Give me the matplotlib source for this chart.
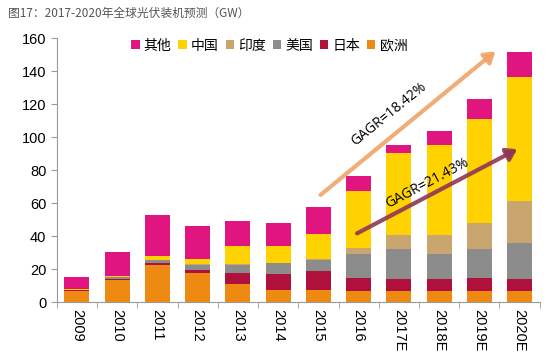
import numpy as np
import matplotlib
matplotlib.use("Agg")
import matplotlib.pyplot as plt

plt.rcParams['font.family'] = ['Liberation Sans', 'Noto Sans CJK SC', 'DejaVu Sans']

# 数据（GW）
years = ['2009', '2010', '2011', '2012', '2013', '2014', '2015', '2016',
         '2017E', '2018E', '2019E', '2020E']
europe = [7.0, 13.3, 22.4, 17.6, 11.1, 7.5, 7.5, 6.8, 6.8, 6.8, 6.8, 6.8]
japan = [0.5, 1.0, 1.2, 2.0, 6.7, 9.9, 11.4, 8.1, 7.1, 7.5, 7.7, 7.5]
usa = [0.2, 0.9, 2.0, 3.2, 4.6, 6.2, 6.7, 14.1, 18.3, 15.1, 17.7, 21.8]
india = [0.0, 0.0, 0.3, 0.4, 0.8, 0.5, 0.6, 3.7, 8.3, 11.1, 15.8, 25.2]
china = [0.2, 0.5, 2.3, 2.8, 10.9, 10.2, 15.2, 34.6, 49.8, 54.8, 63.3, 75.2]
other = [7.2, 14.6, 24.7, 20.4, 15.1, 13.9, 16.1, 9.3, 4.7, 8.3, 12.1, 15.1]

series = [('欧洲', europe, '#EE8A12'),
          ('日本', japan, '#B0103C'),
          ('美国', usa, '#8C8C8C'),
          ('印度', india, '#C9A56F'),
          ('中国', china, '#FFD200'),
          ('其他', other, '#E0157F')]

fig = plt.figure(figsize=(5.57, 3.63), dpi=100)
ax = fig.add_axes([0.102, 0.167, 0.867, 0.728])

x = np.arange(len(years))
bottom = np.zeros(len(years))
handles = {}
for name, vals, color in series:
    vals = np.array(vals)
    h = ax.bar(x, vals, 0.62, bottom=bottom, color=color, label=name, zorder=2)
    handles[name] = h
    bottom += vals

# 图例
order = ['其他', '中国', '印度', '美国', '日本', '欧洲']
leg = ax.legend([handles[n] for n in order], order, loc='upper center',
                bbox_to_anchor=(0.44, 1.045), ncol=6, frameon=False,
                handlelength=0.6, handleheight=0.6, handletextpad=0.3,
                columnspacing=0.5,
                prop={'family': 'Noto Sans CJK SC', 'size': 10})

# 坐标轴
ax.set_xlim(-0.5, len(years) - 0.5)
ax.set_ylim(0, 160)
ax.set_yticks(np.arange(0, 161, 20))
ax.set_xticks(x)
ax.set_xticklabels(years, rotation=270, fontsize=10.5)
ax.set_xticks(np.arange(-0.5, len(years), 1), minor=True)
ax.tick_params(axis='x', which='major', length=0, pad=5)
ax.tick_params(axis='x', which='minor', length=4, color='#999999')
ax.tick_params(axis='y', length=4, color='#999999', labelsize=10.5)
for s in ['top', 'right']:
    ax.spines[s].set_visible(False)
ax.spines['left'].set_color('#999999')
ax.spines['bottom'].set_color('#999999')

# 增长箭头
ax.annotate('', xy=(10.45, 153), xytext=(6.0, 64),
            arrowprops=dict(arrowstyle='-|>,head_length=0.6,head_width=0.4',
                            lw=3, color='#F0A468', alpha=0.9), zorder=3)
ax.annotate('', xy=(11.0, 93.5), xytext=(6.9, 41),
            arrowprops=dict(arrowstyle='-|>,head_length=0.6,head_width=0.4',
                            lw=3, color='#8E3654', alpha=0.9), zorder=3)
ax.text(7.75, 114, 'GAGR=18.42%', rotation=39, fontsize=10,
        family='Open Sans', ha='center', va='center', zorder=4)
ax.text(8.7, 72, 'GAGR=21.43%', rotation=28, fontsize=10,
        family='Open Sans', ha='center', va='center', zorder=4)

fig.text(0.014, 0.962, '图17：2017-2020年全球光伏装机预测（GW）', fontsize=8.5,
         color='#555555', family='Noto Sans CJK SC', va='center')

fig.savefig('out.png', dpi=100)
